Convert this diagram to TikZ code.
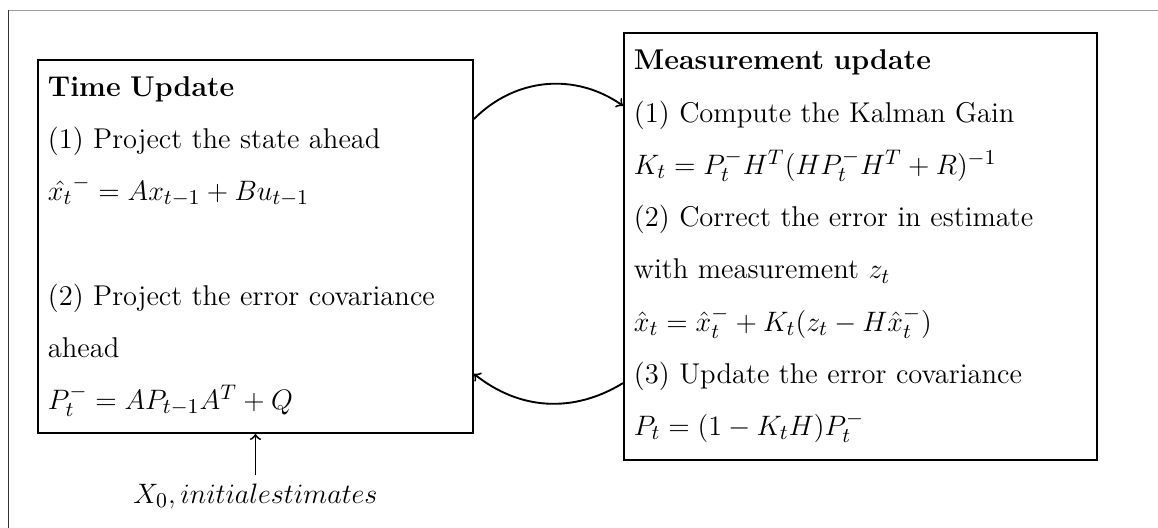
\documentclass[tikz,border=0pt]{standalone}
\usepackage{fontspec}
\usetikzlibrary{positioning}
\definecolor{framegray}{HTML}{9E9E9E}

\begin{document}
\begin{tikzpicture}[
    x=0.015cm, y=-0.015cm,
    every node/.style={font=\fontsize{12.2}{22.3}\selectfont},
    stepbox/.style={draw, thick, align=left, inner xsep=0.15cm, inner ysep=0pt, anchor=north west},
    cyclearrow/.style={->, thick},
]
\useasboundingbox (0,0) rectangle (1158,528);

% outer frame, only top and left edge visible
\draw[framegray] (8,10) -- (1158,10);
\draw[black!80] (8,10) -- (8,528);

% Time update (predict)
\node[stepbox, text width=6.225cm, minimum width=6.525cm, minimum height=5.595cm]
    (timeupd) at (37,59) {
    \textbf{Time Update}\\
    (1) Project the state ahead\\
    $\hat{x_t}^- = Ax_{t-1} + Bu_{t-1}$\\[22.3pt]
    (2) Project the error covariance\\
    ahead\\
    $P_t^- = AP_{t-1}A^T + Q$};

% Measurement update (correct)
\node[stepbox, text width=6.795cm, minimum width=7.095cm, minimum height=6.405cm]
    (measupd) at (623,32) {
    \textbf{Measurement update}\\
    (1) Compute the Kalman Gain\\
    $K_t = P_t^- H^T (HP_t^- H^T + R)^{-1}$\\
    (2) Correct the error in estimate\\
    with measurement $z_t$\\
    $\hat{x}_t = \hat{x}_t^- + K_t(z_t - H\hat{x}_t^-)$\\
    (3) Update the error covariance\\
    $P_t = (1 - K_tH)P_t^-$};

% Initial estimates
\node[below=0.62cm of timeupd] (init) {$X_0, initial estimates$};

% Cycle arrows
\draw[cyclearrow] ([yshift=1.91cm]timeupd.east) to[bend left=40] ([yshift=2.11cm]measupd.west);
\draw[cyclearrow] ([yshift=-2.05cm]measupd.west) to[bend left=35] ([yshift=-1.91cm]timeupd.east);
\draw[cyclearrow] (init) -- (timeupd);

\end{tikzpicture}
\end{document}
